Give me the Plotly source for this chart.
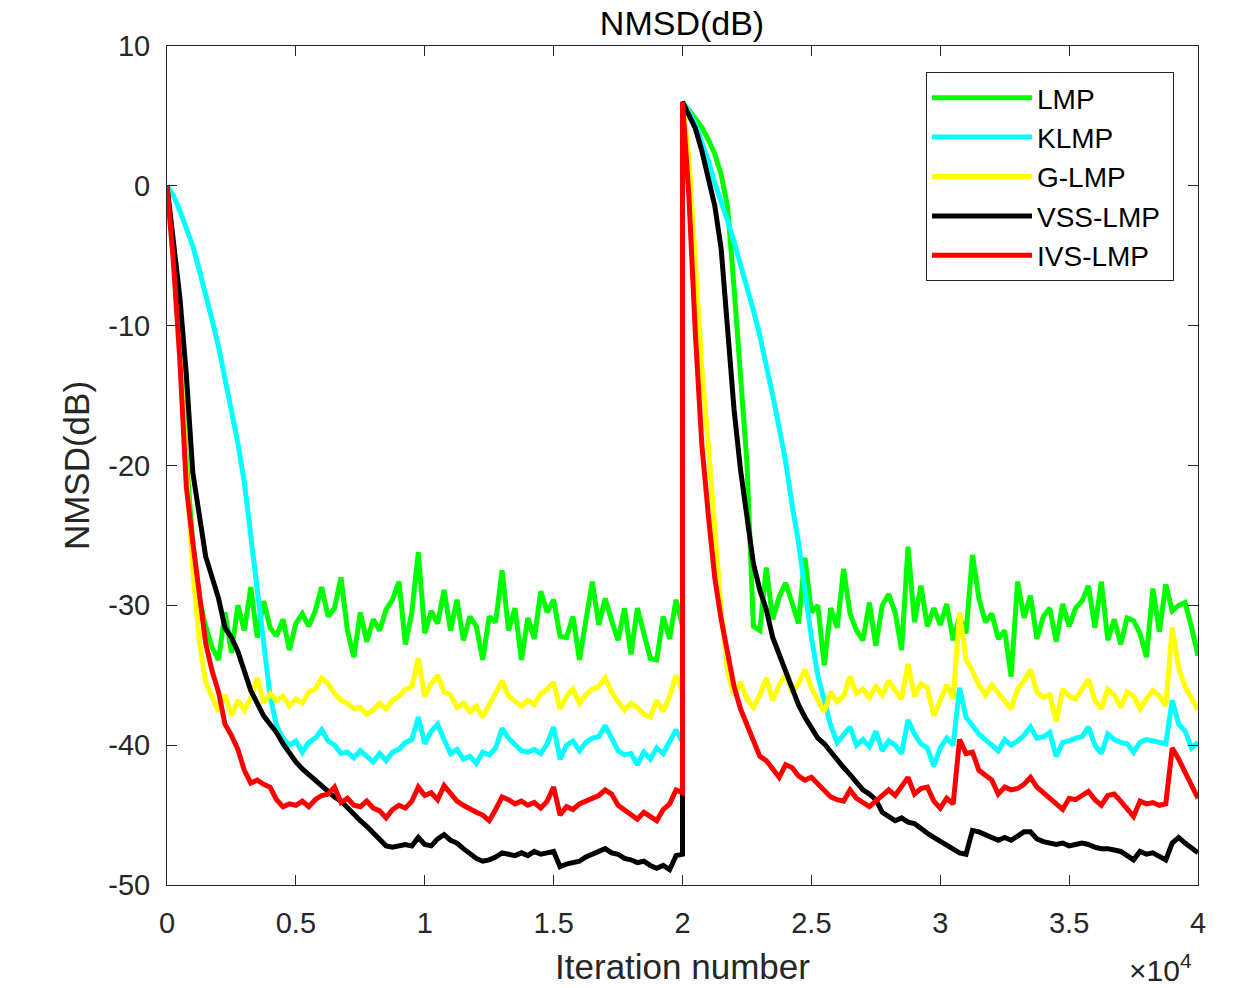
import plotly.graph_objects as go

# x grid (iterations) for each half of the experiment
iters_half1 = list(range(0, 20001, 250))
iters_half2 = list(range(20000, 40001, 250))

x_tick_vals = [0, 5000, 10000, 15000, 20000, 25000, 30000, 35000, 40000]
x_tick_text = ["0", "0.5", "1", "1.5", "2", "2.5", "3", "3.5", "4"]
y_tick_vals = [-50, -40, -30, -20, -10, 0, 10]
y_tick_text = ["-50", "-40", "-30", "-20", "-10", "0", "10"]

series_names = ["LMP", "KLMP", "G-LMP", "VSS-LMP\u00a0", "IVS-LMP"]
series_colors = ["#00FF00", "#00FFFF", "#FFFF00", "#000000", "#FF0000"]

lmp_h1 = [0, -5.0, -11.0, -19.5, -25.5, -29.5, -31.5, -33.0, -33.9, -30.5,
          -33.4, -30.0, -31.8, -28.7, -32.3, -29.7, -31.6, -32.2, -31.0, -33.2,
          -31.3, -30.6, -31.5, -30.4, -28.7, -30.8, -30.2, -28.0, -31.8, -33.7,
          -30.5, -32.6, -31.0, -31.8, -30.3, -29.6, -28.3, -32.8, -30.5, -26.2,
          -32.0, -30.4, -31.3, -28.9, -31.8, -29.6, -32.5, -30.8, -31.5, -33.9,
          -30.8, -31.2, -27.5, -31.8, -30.2, -33.9, -30.9, -32.4, -29.0, -30.5,
          -29.6, -32.2, -32.3, -30.8, -33.9, -31.0, -28.3, -31.4, -29.5, -31.1,
          -32.5, -30.2, -33.5, -30.2, -32.0, -33.8, -33.9, -30.8, -32.4, -29.6,
          -31.5]
lmp_h2 = [6.0, 5.4, 4.8, 4.2, 3.3, 2.3, 0.8, -1.5, -7.3, -13.4,
          -19.8, -31.5, -31.8, -27.3, -31.0, -29.4, -28.4, -29.8, -31.3, -26.6,
          -30.5, -30.0, -34.3, -30.2, -31.6, -27.4, -30.6, -31.8, -32.5, -29.8,
          -32.9, -30.0, -29.2, -30.5, -33.2, -25.8, -31.2, -28.6, -31.5, -30.2,
          -31.4, -29.9, -32.5, -30.8, -32.0, -26.4, -29.5, -31.2, -30.6, -32.4,
          -31.8, -35.1, -28.3, -30.9, -29.3, -32.4, -30.8, -30.2, -32.6, -29.9,
          -31.5, -30.2, -29.7, -28.6, -31.6, -28.3, -32.5, -31.0, -32.8, -30.9,
          -31.1, -32.0, -33.7, -28.8, -31.9, -28.5, -30.4, -30.0, -29.8, -31.6,
          -33.6]

klmp_h1 = [0, -0.7, -1.8, -3.0, -4.3, -6.0, -7.7, -9.6, -11.5, -13.7,
           -16.0, -18.4, -21.2, -25.0, -28.6, -32.6, -36.5, -38.6, -39.5, -40.0,
           -39.7, -40.5, -39.8, -39.5, -38.9, -39.7, -40.0, -40.6, -40.5, -40.9,
           -40.4, -40.8, -41.2, -40.6, -41.1, -40.5, -40.3, -39.8, -39.6, -38.0,
           -39.9, -39.0, -38.5, -39.6, -40.6, -40.3, -41.0, -40.8, -41.3, -40.5,
           -40.7, -40.2, -38.8, -39.5, -39.9, -40.4, -40.5, -40.3, -40.6, -39.9,
           -38.7, -41.0, -40.0, -39.7, -40.4, -39.8, -39.5, -39.4, -38.6, -39.5,
           -40.4, -40.7, -40.6, -41.4, -40.5, -41.0, -40.2, -40.6, -39.8, -38.9,
           -39.8]
klmp_h2 = [6.0, 5.3, 4.4, 3.1, 1.8, 0.2, -1.1, -2.5, -4.0, -5.6,
           -7.1, -8.9, -10.7, -12.7, -15.0, -17.3, -19.7, -22.8, -25.5, -28.9,
           -32.3, -35.0, -36.7, -38.6, -39.8, -39.2, -38.7, -40.0, -39.6, -40.1,
           -39.0, -40.4, -39.7, -40.0, -40.6, -38.2, -39.2, -39.9, -40.2, -41.5,
           -40.2, -39.5, -40.0, -35.9, -38.0, -38.6, -39.2, -39.6, -40.0, -40.4,
           -39.6, -40.0, -39.7, -39.3, -38.7, -39.5, -39.4, -39.1, -40.8, -39.8,
           -39.7, -39.5, -39.4, -38.7, -40.0, -40.6, -39.2, -39.6, -39.8, -39.9,
           -40.5, -39.8, -39.6, -39.7, -39.8, -39.9, -36.8, -38.5, -39.0, -40.2,
           -39.8]

glmp_h1 = [0, -5.0, -11.5, -20.5, -27.5, -32.5, -35.5, -36.5, -37.6, -36.4,
           -37.9, -36.8, -37.5, -36.6, -35.2, -37.0, -36.3, -36.8, -36.5, -37.2,
           -36.7, -37.0, -36.2, -36.0, -35.2, -35.6, -36.3, -36.8, -37.0, -37.4,
           -37.3, -37.8, -37.5, -37.0, -37.4, -36.8, -36.5, -36.0, -35.8, -33.8,
           -36.5, -35.6, -35.0, -36.2, -36.4, -37.3, -37.0, -37.6, -37.2, -38.0,
           -37.1, -36.2, -35.4, -36.5, -36.9, -37.2, -36.8, -37.1, -36.3, -36.0,
           -35.5, -37.4, -36.5, -36.0, -37.0, -36.4, -36.0, -35.8, -35.2, -36.2,
           -36.9, -37.5, -37.0, -37.3, -37.8, -38.0, -36.8, -37.6, -36.5, -35.0,
           -36.2]
glmp_h2 = [6.0, 2.0, -5.5, -13.0, -18.5, -24.0, -30.4, -34.8, -36.4, -35.5,
           -36.7, -37.3, -36.4, -35.2, -36.8, -35.7, -34.9, -36.2, -35.6, -34.6,
           -35.9, -36.8, -37.6, -36.2, -36.9, -36.5, -35.1, -36.3, -36.0, -36.6,
           -35.8, -36.4, -35.4, -36.1, -36.7, -34.2, -36.5, -35.6, -35.9, -37.9,
           -36.8, -35.7, -36.7, -30.5, -33.9, -34.7, -35.7, -36.4, -35.7, -36.3,
           -36.9, -37.4, -36.0, -35.4, -34.6, -36.2, -36.6, -36.4, -38.3, -36.0,
           -36.5, -36.7, -36.0, -35.3, -36.8, -37.4, -36.0, -36.4, -37.3, -36.2,
           -36.5, -37.4, -36.7, -36.1, -36.5, -37.2, -31.6, -34.5, -35.8, -36.6,
           -37.5]

vss_h1 = [0, -4.0, -8.0, -13.5, -20.5, -23.5, -26.5, -28.0, -29.5, -31.6,
          -32.3, -33.3, -34.7, -36.1, -37.0, -37.9, -38.5, -39.1, -39.9, -40.6,
          -41.2, -41.7, -42.1, -42.6, -43.0, -43.4, -43.7, -44.0, -44.5, -44.9,
          -45.4, -45.8, -46.3, -46.8, -47.2, -47.3, -47.2, -47.1, -47.2, -46.6,
          -47.1, -47.2, -46.7, -46.4, -46.8, -47.0, -47.4, -47.8, -48.1, -48.3,
          -48.2, -48.0, -47.7, -47.8, -47.9, -47.7, -47.9, -47.6, -47.8, -47.7,
          -47.6, -48.7, -48.5, -48.4, -48.3, -48.0, -47.8, -47.6, -47.4, -47.7,
          -47.8, -48.1, -48.2, -48.4, -48.3, -48.6, -48.8, -48.6, -48.9, -47.9,
          -47.8]
vss_h2 = [6.0, 5.1, 4.1, 2.5, 0.7, -1.4, -4.5, -10.0, -16.0, -20.3,
          -23.4, -27.0, -28.9, -30.3, -32.3, -33.5, -34.6, -36.0, -37.1, -38.0,
          -38.8, -39.5, -39.9, -40.5, -41.1, -41.6, -42.1, -42.7, -43.2, -43.5,
          -43.9, -44.8, -45.1, -45.4, -45.2, -45.5, -45.6, -46.0, -46.3, -46.6,
          -46.9, -47.1, -47.5, -47.7, -47.8, -46.1, -46.2, -46.4, -46.6, -46.8,
          -46.6, -46.8, -46.5, -46.2, -46.2, -46.7, -46.9, -47.0, -47.1, -47.0,
          -47.2, -47.1, -47.0, -47.1, -47.3, -47.4, -47.4, -47.5, -47.6, -47.9,
          -48.2, -47.6, -47.8, -47.7, -48.0, -48.2, -47.0, -46.6, -47.0, -47.4,
          -47.7]

ivs_h1 = [0, -5.5, -12.5, -21.5, -25.5, -29.0, -32.7, -34.7, -36.2, -38.5,
          -39.3, -40.3, -41.8, -42.7, -42.5, -42.8, -43.0, -43.9, -44.4, -44.2,
          -44.3, -44.0, -44.4, -43.9, -43.6, -43.5, -43.0, -44.1, -43.8, -44.3,
          -44.4, -44.0, -44.5, -44.7, -45.2, -44.6, -44.3, -44.5, -44.0, -43.0,
          -43.6, -43.4, -43.9, -42.9, -43.5, -44.0, -44.3, -44.6, -44.8, -45.0,
          -45.4, -44.6, -43.7, -43.9, -44.2, -44.0, -44.3, -44.1, -44.5, -44.0,
          -43.0, -45.0, -44.4, -44.6, -44.2, -44.0, -43.8, -43.6, -43.2, -43.5,
          -44.3, -44.6, -44.9, -45.3, -44.8, -45.1, -45.4, -44.6, -44.2, -43.2,
          -43.4]
ivs_h2 = [6.0, -0.8, -10.6, -18.5, -23.5, -28.0, -31.0, -33.5, -35.8, -37.4,
          -38.5, -39.5, -40.8, -41.1, -41.7, -42.3, -41.4, -41.6, -42.2, -42.5,
          -42.3, -42.8, -43.3, -43.7, -43.9, -44.0, -43.2, -43.8, -44.1, -44.4,
          -44.0, -43.6, -43.2, -43.6, -43.0, -42.3, -43.5, -43.1, -43.0, -44.0,
          -44.5, -43.8, -44.2, -39.6, -40.6, -40.5, -41.8, -42.2, -42.5, -43.5,
          -43.0, -43.2, -43.1, -42.8, -42.3, -43.0, -43.4, -43.8, -44.2, -44.6,
          -43.8, -43.9, -43.6, -43.3, -43.9, -44.3, -43.6, -43.5, -44.0, -44.6,
          -45.1, -44.0, -44.2, -44.1, -44.3, -44.2, -40.2, -41.0, -42.0, -43.0,
          -43.8]

halves = [(lmp_h1, lmp_h2), (klmp_h1, klmp_h2), (glmp_h1, glmp_h2),
          (vss_h1, vss_h2), (ivs_h1, ivs_h2)]

x_all = iters_half1 + iters_half2
fig = go.Figure()
for name, color, (h1, h2) in zip(series_names, series_colors, halves):
    fig.add_trace(go.Scatter(x=x_all, y=h1 + h2, mode="lines", name=name,
                             line=dict(color=color, width=5)))

axis_common = dict(showline=True, linecolor="#262626", linewidth=1, mirror="ticks",
                   ticks="inside", ticklen=10, tickwidth=1, tickcolor="#262626",
                   showgrid=False, zeroline=False, automargin=False,
                   tickfont=dict(size=29, color="#262626"))

fig.update_layout(
    width=1255, height=988,
    margin=dict(l=167, r=57, t=46, b=103),
    plot_bgcolor="white", paper_bgcolor="white",
    font=dict(family="Liberation Sans, Arial, sans-serif", color="#262626"),
    title=dict(text="NMSD(dB)", x=682 / 1255, xanchor="center",
               y=1 - 23 / 988, yanchor="middle",
               font=dict(size=34, color="#000000")),
    xaxis=dict(range=[0, 40000], tickvals=x_tick_vals, ticktext=x_tick_text,
               ticklabelstandoff=12,
               title=dict(text="Iteration number", font=dict(size=35, color="#262626"), standoff=16),
               **axis_common),
    yaxis=dict(range=[-50, 10], tickvals=y_tick_vals, ticktext=y_tick_text,
               ticklabelstandoff=10,
               title=dict(text="NMSD(dB)", font=dict(size=35, color="#262626"), standoff=8),
               **axis_common),
    legend=dict(x=(926 - 167) / 1031, y=(885 - 72) / 839, xanchor="left", yanchor="top",
                bgcolor="white", bordercolor="#262626", borderwidth=1,
                font=dict(size=28, color="#000000"), itemwidth=100, tracegroupgap=0),
    showlegend=True,
)

fig.add_annotation(text="×10<sup>4</sup>", xref="paper", yref="paper",
                   x=(1194 - 167) / 1031, y=(885 - 968) / 839,
                   xanchor="right", yanchor="middle", showarrow=False,
                   font=dict(size=30, color="#262626"))

fig.write_html("out.html", config={"displayModeBar": False},
               post_script="document.body.style.margin='0';")
